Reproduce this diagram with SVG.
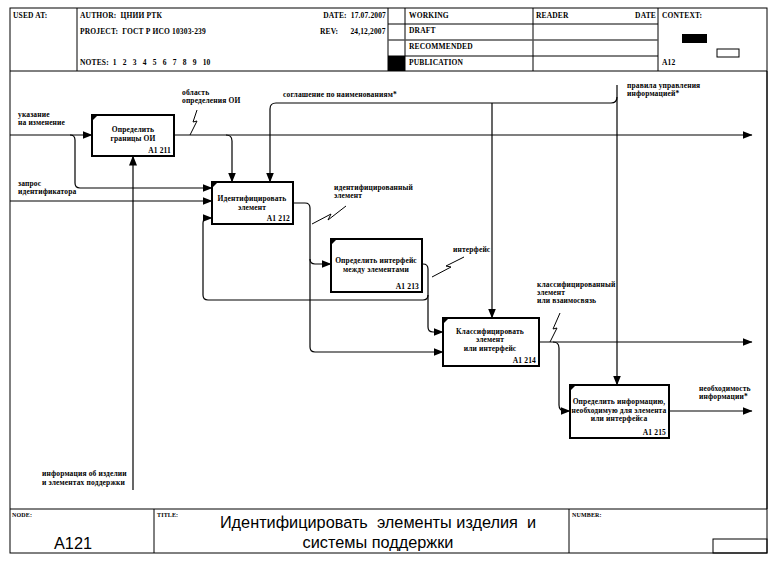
<svg xmlns="http://www.w3.org/2000/svg" width="781" height="562" viewBox="0 0 781 562">
<style>
.t{font-family:"Liberation Serif",serif;font-weight:bold;font-size:7.5px;fill:#000;letter-spacing:0.15px}
.c{text-anchor:middle}
.r{text-anchor:end}
.bx{fill:#fff;stroke:#000;stroke-width:2}
.fr{fill:none;stroke:#000;stroke-width:1}
.cn{fill:none;stroke:#000;stroke-width:1.2}
.sq{fill:none;stroke:#000;stroke-width:1}
.big{font-family:"Liberation Sans",Arial,sans-serif;font-size:16.3px;fill:#000}
</style>
<defs>
<marker id="ah" markerWidth="10" markerHeight="8" refX="9.5" refY="4" orient="auto" markerUnits="userSpaceOnUse">
<path d="M0,0 L10,4 L0,8 Z" fill="#000"/>
</marker>
</defs>
<rect width="781" height="562" fill="#fff"/>
<g id="frame">
<rect class="fr" x="10" y="8" width="757" height="545"/>
<line class="fr" x1="767" y1="71" x2="767" y2="509" stroke-width="2"/>
<line class="fr" x1="10" y1="71" x2="767" y2="71"/>
<line class="fr" x1="77" y1="8" x2="77" y2="71"/>
<line class="fr" x1="388" y1="8" x2="388" y2="71"/>
<line class="fr" x1="405" y1="8" x2="405" y2="71"/>
<line class="fr" x1="533" y1="8" x2="533" y2="71"/>
<line class="fr" x1="658" y1="8" x2="658" y2="71"/>
<line class="fr" x1="388" y1="24" x2="658" y2="24"/>
<line x1="388" y1="40" x2="658" y2="40" stroke="#555" stroke-width="1.6"/>
<line class="fr" x1="388" y1="56" x2="658" y2="56"/>
<rect x="388" y="56" width="17" height="15" fill="#000"/>
<rect x="682" y="34" width="25" height="9" fill="#000"/>
<rect x="717" y="49" width="22" height="8" fill="#fff" stroke="#000" stroke-width="1"/>
<text class="t" x="13" y="18">USED AT:</text>
<text class="t" x="80" y="18" xml:space="preserve">AUTHOR:  ЦНИИ РТК</text>
<text class="t r" x="386" y="18" xml:space="preserve">DATE:  17.07.2007</text>
<text class="t" x="80" y="34" xml:space="preserve">PROJECT:  ГОСТ Р ИСО 10303-239</text>
<text class="t" x="320" y="34" xml:space="preserve">REV:      24,12,2007</text>
<text class="t" x="80" y="65" xml:space="preserve">NOTES:  1   2   3   4   5   6   7   8   9   10</text>
<text class="t" x="409" y="18">WORKING</text>
<text class="t" x="409" y="33">DRAFT</text>
<text class="t" x="409" y="49">RECOMMENDED</text>
<text class="t" x="409" y="65">PUBLICATION</text>
<text class="t" x="536" y="18">READER</text>
<text class="t r" x="656" y="18">DATE</text>
<text class="t" x="662" y="18">CONTEXT:</text>
<text class="t" x="662" y="65">A12</text>
<line class="fr" x1="10" y1="509" x2="767" y2="509"/>
<line class="fr" x1="154" y1="509" x2="154" y2="553"/>
<line class="fr" x1="569" y1="509" x2="569" y2="553"/>
<rect x="713" y="539" width="54" height="14" fill="none" stroke="#000" stroke-width="1"/>
<text class="t" x="12" y="517" style="font-size:6px">NODE:</text>
<text class="t" x="157" y="517" style="font-size:6px">TITLE:</text>
<text class="t" x="572" y="517" style="font-size:6px">NUMBER:</text>
<text class="big c" x="73" y="549">A121</text>
<text class="big c" x="378" y="528" xml:space="preserve">Идентифицировать  элементы изделия  и</text>
<text class="big c" x="378" y="548">системы поддержки</text>
</g>
<g id="connectors">
<path class="cn" d="M10,135 H92" marker-end="url(#ah)"/>
<path class="cn" d="M70,135 Q75,135 75,140 V183 Q75,188 80,188 H212" marker-end="url(#ah)"/>
<path class="cn" d="M10,201 H212" marker-end="url(#ah)"/>
<path class="cn" d="M174,135 H752" marker-end="url(#ah)"/>
<path class="cn" d="M226,135 Q232,135 232,141 V182" marker-end="url(#ah)"/>
<path class="cn" d="M617,85 V385" marker-end="url(#ah)"/>
<path class="cn" d="M617,97 Q617,103 611,103 H276 Q270,103 270,109 V182" marker-end="url(#ah)"/>
<path class="cn" d="M492,103 V318" marker-end="url(#ah)"/>
<path class="cn" d="M133,490 V156" marker-end="url(#ah)"/>
<path class="cn" d="M293,203 H305 Q310,203 310,208 V259 Q310,264 315,264 H331" marker-end="url(#ah)"/>
<path class="cn" d="M310,259 V347 Q310,352 315,352 H443" marker-end="url(#ah)"/>
<path class="cn" d="M422,264 H423 Q428,264 428,269 V327 Q428,332 433,332 H443" marker-end="url(#ah)"/>
<path class="cn" d="M428,295 Q428,300 423,300 H208 Q203,300 203,295 V223 Q203,218 208,218 H212" marker-end="url(#ah)"/>
<path class="cn" d="M539,342 H752" marker-end="url(#ah)"/>
<path class="cn" d="M553,342 Q559,342 559,348 V405 Q559,411 565,411 H570" marker-end="url(#ah)"/>
<path class="cn" d="M669,411 H752" marker-end="url(#ah)"/>
<polyline class="sq" points="190,135 197,121 193,122 197,110"/>
<polyline class="sq" points="312,224 331,214 328,220 346,206"/>
<polyline class="sq" points="432,277 451,267 446,266 464,257"/>
<polyline class="sq" points="550,342 557,328 553,329 560,313"/>
</g>
<g id="labels">
<text class="t" x="18" y="117">указание</text>
<text class="t" x="18" y="125">на изменение</text>
<text class="t" x="18" y="186">запрос</text>
<text class="t" x="18" y="194">идентификатора</text>
<text class="t" x="182" y="95">область</text>
<text class="t" x="182" y="103">определения ОИ</text>
<text class="t" x="283" y="97">соглашение по наименованиям*</text>
<text class="t" x="627" y="88">правила управления</text>
<text class="t" x="627" y="96">информацией*</text>
<text class="t" x="334" y="190">идентифицированный</text>
<text class="t" x="334" y="198">элемент</text>
<text class="t" x="453" y="252">интерфейс</text>
<text class="t" x="537" y="287">классифицированный</text>
<text class="t" x="537" y="295">элемент</text>
<text class="t" x="537" y="303">или взаимосвязь</text>
<text class="t" x="699" y="391">необходимость</text>
<text class="t" x="699" y="399">информации*</text>
<text class="t" x="42" y="476">информация об изделии</text>
<text class="t" x="42" y="485">и элементах поддержки</text>
</g>
<g id="n1">
<rect class="bx" x="92" y="115" width="82" height="41"/>
<path d="M93,116 L97,116 L93,120 Z" fill="#000"/>
<text class="t c" x="133" y="132">Определить</text>
<text class="t c" x="133" y="141">границы ОИ</text>
<text class="t r" x="171" y="153">A1 211</text>
</g>
<g id="n2">
<rect class="bx" x="212" y="182" width="81" height="42"/>
<path d="M213,183 L217,183 L213,187 Z" fill="#000"/>
<text class="t c" x="252" y="201">Идентифицировать</text>
<text class="t c" x="252" y="210">элемент</text>
<text class="t r" x="290" y="221">A1 212</text>
</g>
<g id="n3">
<rect class="bx" x="331" y="239" width="91" height="53"/>
<path d="M332,240 L336,240 L332,244 Z" fill="#000"/>
<text class="t c" x="376" y="263">Определить интерфейс</text>
<text class="t c" x="376" y="272">между элементами</text>
<text class="t r" x="419" y="289">A1 213</text>
</g>
<g id="n4">
<rect class="bx" x="443" y="318" width="96" height="48"/>
<path d="M444,319 L448,319 L444,323 Z" fill="#000"/>
<text class="t c" x="490" y="334">Классифицировать</text>
<text class="t c" x="490" y="342">элемент</text>
<text class="t c" x="490" y="351">или интерфейс</text>
<text class="t r" x="536" y="363">A1 214</text>
</g>
<g id="n5">
<rect class="bx" x="570" y="385" width="99" height="53"/>
<path d="M571,386 L575,386 L571,390 Z" fill="#000"/>
<text class="t c" x="619" y="404">Определить информацию,</text>
<text class="t c" x="619" y="413">необходимую для элемента</text>
<text class="t c" x="619" y="421">или интерфейса</text>
<text class="t r" x="666" y="435">A1 215</text>
</g>
</svg>
